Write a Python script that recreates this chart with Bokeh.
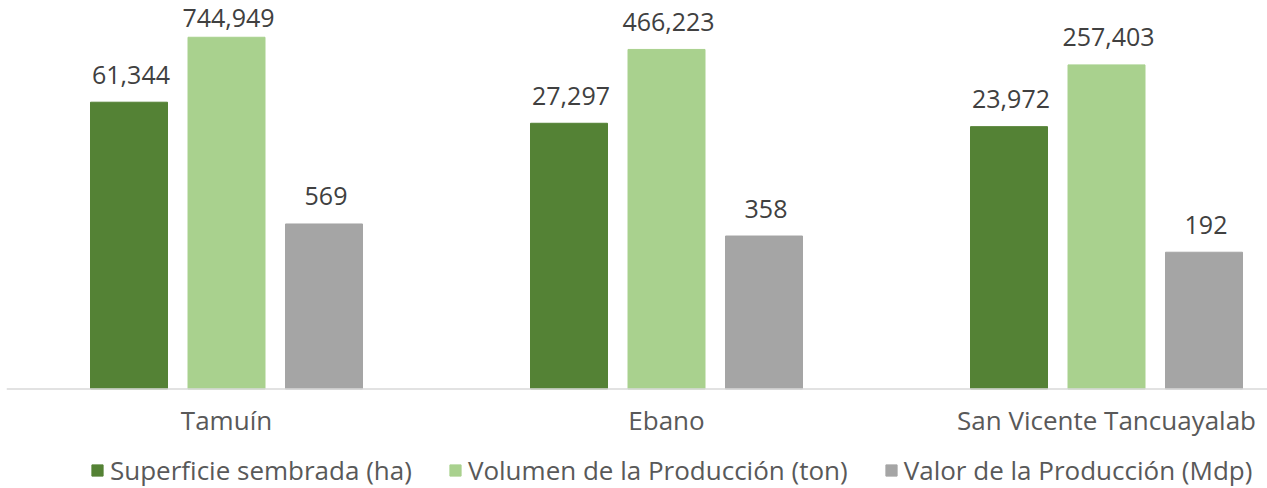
import numpy as np
from bokeh.plotting import figure
from bokeh.models import Range1d, Legend, LegendItem, ColumnDataSource, Span
from bokeh.core.properties import value
from bokeh.embed import file_html
from bokeh.resources import INLINE

municipios = ["Tamuín", "Ebano", "San Vicente Tancuayalab"]
series = ["Superficie sembrada (ha)", "Volumen de la Producción (ton)", "Valor de la Producción (Mdp)"]
superficie = [61344, 27297, 23972]
volumen = [744949, 466223, 257403]
valor = [569, 358, 192]
colors = ["#548235", "#A9D18E", "#A5A5A5"]

FONT = "Open Sans"
FS = "25px"
FS2 = "26px"

PX_DEC = 59.9   # pixels per decade
BASE_PX = 388.5  # pixel row of the bars' base from the top
p = figure(frame_width=1261, frame_height=488, y_axis_type="log", output_backend="svg",
           toolbar_location=None, x_range=Range1d(0, 1261 / 440),
           y_range=Range1d(10 ** (-(488 - BASE_PX) / PX_DEC), 10 ** (BASE_PX / PX_DEC)),
           min_border_left=6, min_border_right=0, min_border_top=0, min_border_bottom=0)
p.outline_line_color = None
p.grid.visible = False
p.axis.visible = False
p.background_fill_color = None
p.border_fill_color = "white"

xc = np.arange(len(municipios)) + 0.5
offsets = [-97.5 / 440, 0, 97.5 / 440]
bw = 77 / 440
renderers = []
for vals, off, col in zip([superficie, volumen, valor], offsets, colors):
    # label sits ~18px above the bar, but is kept inside the chart area (like Excel does)
    top_px = BASE_PX - np.log10(np.array(vals, dtype=float)) * PX_DEC
    yoff = [-max(10.0, min(18.5, t - 28.7)) for t in top_px]
    src = ColumnDataSource(dict(x=xc + off, top=vals, bottom=[1] * len(vals),
                                lab=[f"{v:,}" for v in vals], yoff=yoff))
    r = p.vbar(x="x", top="top", bottom="bottom", width=bw, color=col, source=src)
    renderers.append(r)
    p.text(x="x", y="top", text="lab", source=src, text_align="center", text_baseline="bottom",
           x_offset=2, y_offset="yoff", text_font=value(FONT), text_font_size=FS, text_color="#404040")

# category axis line and labels at the bars' base (value 1)
p.add_layout(Span(location=1, dimension="width", line_color="#D9D9D9", line_width=1.5))
csrc = ColumnDataSource(dict(x=xc, y=[1] * len(municipios), t=municipios))
p.text(x="x", y="y", text="t", source=csrc, text_align="center", text_baseline="middle",
       y_offset=31, text_font=value(FONT), text_font_size=FS2, text_color="#595959")

legend = Legend(items=[LegendItem(label=s, renderers=[r]) for s, r in zip(series, renderers)],
                orientation="horizontal", location=(84, 0),
                glyph_width=14, glyph_height=14, label_standoff=6, spacing=36,
                label_text_font=FONT, label_text_font_size=FS2, label_text_color="#595959",
                border_line_color=None, background_fill_alpha=0, padding=0, margin=0)
p.add_layout(legend, "center")

open("out.html", "w").write(file_html(p, INLINE))
